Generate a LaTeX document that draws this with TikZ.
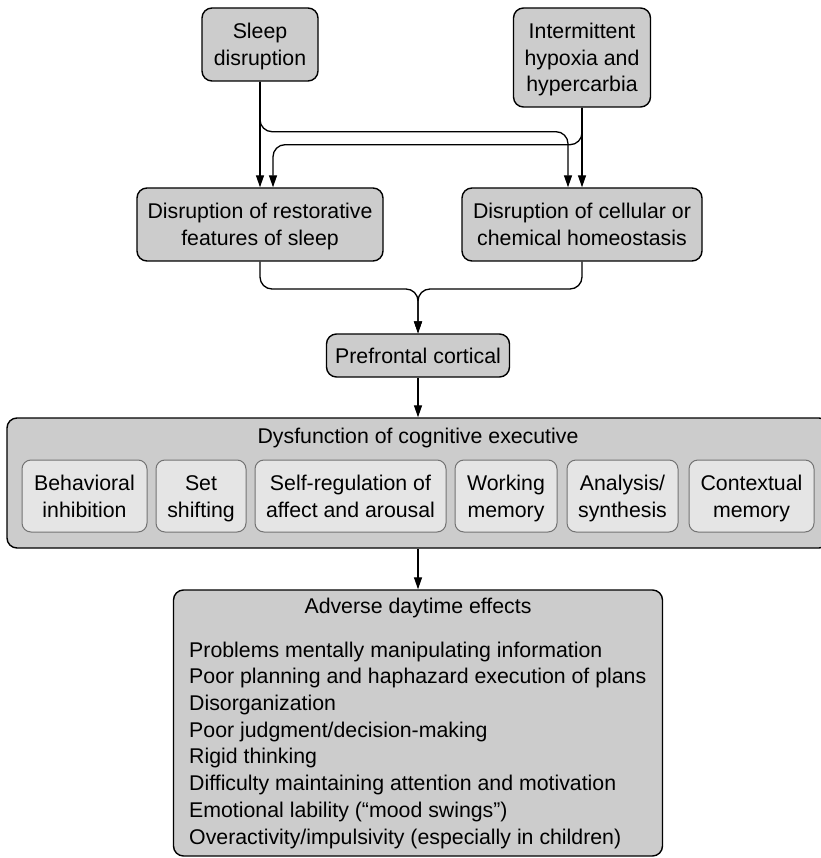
\documentclass[tikz,border=0pt]{standalone}
\usepackage{fontspec}
\setmainfont{Liberation Sans}
\usetikzlibrary{arrows.meta}
\definecolor{boxgray}{gray}{0.80}
\definecolor{subgray}{gray}{0.90}
\definecolor{subline}{gray}{0.45}
\newcommand{\lnstrut}{\rule[-4.6pt]{0pt}{24.6pt}}
\begin{document}
\begin{tikzpicture}[x=1pt,y=-1pt,
  box/.style={draw=black,line width=1.4pt,fill=boxgray,rounded corners=10pt,align=center},
  subbox/.style={draw=subline,line width=1pt,fill=subgray,rounded corners=9pt,align=center,minimum height=72},
  conn/.style={line width=1.3pt,rounded corners=12pt,-{Triangle[length=12pt,width=8pt]}}]
\tikzstyle{every node}+=[inner sep=0pt,font=\fontsize{21.3}{26.7}\selectfont]
\useasboundingbox (0,0) rectangle (820,858);
\node [box,minimum width=116,minimum height=73] (sleep) at (260,44.5) {\lnstrut Sleep\\disruption\lnstrut};
\node [box,minimum width=137,minimum height=99] (hypox) at (582,57.5) {\lnstrut Intermittent\\hypoxia and\\hypercarbia\lnstrut};
\node [box,minimum width=246,minimum height=73] (restor) at (260,224.5) {\lnstrut Disruption of restorative\\features of sleep\lnstrut};
\node [box,minimum width=240,minimum height=73] (cellul) at (582,224.5) {\lnstrut Disruption of cellular or\\chemical homeostasis\lnstrut};
\node [box,minimum width=183,minimum height=43] (prefr) at (418,355.5) {\lnstrut Prefrontal cortical};
\node [box,minimum width=822,minimum height=130] (dysfn) at (418,483) {};
\node (dysfntitle) at (418,438) {Dysfunction of cognitive executive};
\node [subbox,minimum width=125] (behav) at (84.5,496) {\lnstrut Behavioral\\inhibition\lnstrut};
\node [subbox,minimum width=90] (setsh) at (201,496) {\lnstrut Set\\shifting\lnstrut};
\node [subbox,minimum width=191] (selfr) at (350.5,496) {\lnstrut Self-regulation of\\affect and arousal\lnstrut};
\node [subbox,minimum width=102] (workm) at (506,496) {\lnstrut Working\\memory\lnstrut};
\node [subbox,minimum width=111] (analy) at (622.5,496) {\lnstrut Analysis/\\synthesis\lnstrut};
\node [subbox,minimum width=125] (contx) at (751.5,496) {\lnstrut Contextual\\memory\lnstrut};
\node [box,minimum width=489,minimum height=266] (advrs) at (418,723) {};
\node (advrstitle) at (418,608) {Adverse daytime effects};
\node [anchor=base west,align=left] (advrslist) at (189,844) {Problems mentally manipulating information\\Poor planning and haphazard execution of plans\\Disorganization\\Poor judgment/decision-making\\Rigid thinking\\Difficulty maintaining attention and motivation\\Emotional lability (“mood swings”)\\Overactivity/impulsivity (especially in children)};
\coordinate (join) at (418,289);
\draw [conn] (sleep) -- (restor);
\draw [conn] (sleep.south) -- ++(0,50) -| ([xshift=-14pt]cellul.north);
\draw [conn] (hypox) -- (cellul);
\draw [conn] (hypox.south) -- ++(0,37) -| ([xshift=13pt]restor.north);
\draw [conn] (restor.south) |- (join) -- (prefr.north);
\draw [conn] (cellul.south) |- (join) -- (prefr.north);
\draw [conn] (prefr) -- (dysfn);
\draw [conn] (dysfn) -- (advrs);
\end{tikzpicture}
\end{document}
